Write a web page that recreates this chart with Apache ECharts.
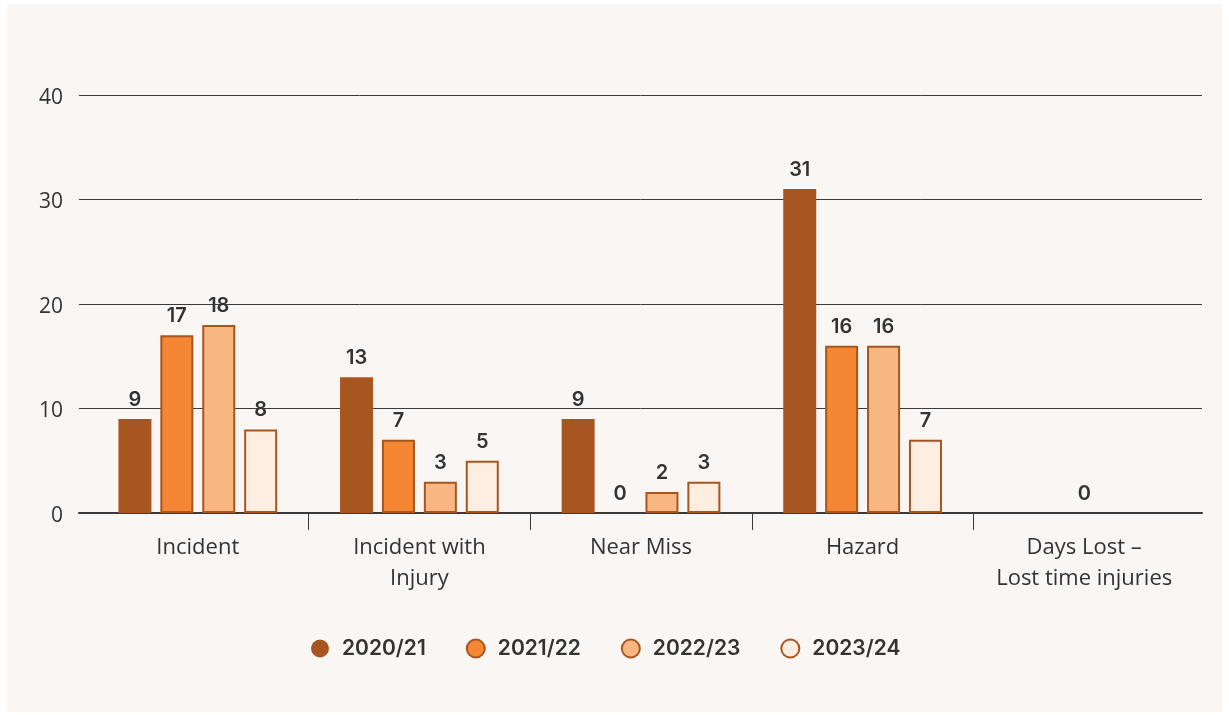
<!DOCTYPE html>
<html>
<head>
<meta charset="utf-8">
<title>Incidents by year</title>
<script src="https://cdn.jsdelivr.net/npm/echarts@6.0.0/dist/echarts.min.js"></script>
<style>
  html, body { margin: 0; padding: 0; background: #ffffff; }
  .panel { position: absolute; left: 7px; top: 4px; width: 1215px; height: 708px; background: #f9f6f3; }
  #chart { position: absolute; left: 0; top: 0; width: 1229px; height: 715px; }
</style>
</head>
<body>
<div class="panel"></div>
<div id="chart"></div>
<script>
// 分类和每年的数据
const categories = ['Incident', 'Incident with\nInjury', 'Near Miss', 'Hazard', 'Days Lost –\nLost time injuries']
const years = ['2020/21', '2021/22', '2022/23', '2023/24']
const v2020 = [9, 13, 9, 31, null]
const v2021 = [17, 7, 0, 16, 0]
const v2022 = [18, 3, 2, 16, null]
const v2023 = [8, 5, 3, 7, null]
const yTicks = [0, 10, 20, 30, 40]
const boundaryTicks = [1, 2, 3, 4]

const rust = '#a8561f'
const fills = ['#a8561f', '#f48634', '#f8b683', '#fdeee1']
const textColor = '#333333'

const chart = echarts.init(document.getElementById('chart'))

function makeSeries (name, values, idx) {
  const data = values.map((v, i) => {
    if (v === 0) {
      // 值为 0 时不画柱子，只留标签
      const item = { value: v, itemStyle: { color: 'transparent', borderWidth: 0 } }
      // Days Lost 只显示一个居中的 0
      if (i === 4) item.label = { offset: [21, 0] }
      return item
    }
    return v
  })
  return {
    name: name,
    type: 'bar',
    xAxisIndex: 1,
    yAxisIndex: 1,
    barWidth: 33,
    barGap: '27%',
    data: data,
    itemStyle: {
      color: fills[idx],
      borderColor: rust,
      borderWidth: idx === 0 ? 0 : 2
    },
    label: {
      show: true,
      position: 'top',
      distance: 9,
      color: textColor,
      fontFamily: 'Inter',
      fontWeight: 600,
      fontSize: 20
    }
  }
}

const option = {
  animation: false,
  backgroundColor: 'transparent',
  grid: [
    { left: 79, right: 27, top: 95, bottom: 202 },
    { left: 87, right: 34, top: 95, bottom: 202 }
  ],
  legend: {
    data: years,
    left: 306,
    top: 633,
    icon: 'circle',
    itemWidth: 34,
    itemHeight: 18,
    itemGap: 40,
    textStyle: {
      color: textColor,
      fontFamily: 'Inter',
      fontWeight: 600,
      fontSize: 21
    }
  },
  xAxis: [
    {
      // 外层网格，只画 0 处的粗轴线
      type: 'category',
      gridIndex: 0,
      data: categories,
      axisLine: { show: true, lineStyle: { color: '#3a3a3a', width: 2 } },
      axisTick: { show: false },
      axisLabel: { show: false }
    },
    {
      type: 'category',
      gridIndex: 1,
      data: categories,
      axisLine: { show: false },
      axisTick: { show: false },
      axisLabel: {
        margin: 19,
        color: textColor,
        fontFamily: 'Open Sans',
        fontSize: 22,
        lineHeight: 31,
        interval: 0
      }
    },
    {
      // 分类之间的刻度线
      type: 'value',
      gridIndex: 1,
      position: 'bottom',
      min: 0,
      max: 5,
      interval: 1,
      axisLine: { show: false },
      axisTick: { show: true, length: 17, customValues: boundaryTicks, lineStyle: { color: '#3a3a3a', width: 1 } },
      axisLabel: { show: false },
      splitLine: { show: false }
    }
  ],
  yAxis: [
    {
      type: 'value',
      gridIndex: 0,
      min: yTicks[0],
      max: yTicks[yTicks.length - 1],
      interval: 10,
      axisLine: { show: false },
      axisTick: { show: false },
      axisLabel: {
        margin: 16,
        formatter: '{v|{value}}',
        rich: {
          v: {
            color: textColor,
            fontFamily: 'Open Sans',
            fontSize: 21,
            padding: [6, 0, 0, 0]
          }
        }
      },
      splitLine: { lineStyle: { color: '#3a3a3a', width: 1 } }
    },
    {
      type: 'value',
      gridIndex: 1,
      min: yTicks[0],
      max: yTicks[yTicks.length - 1],
      show: false
    }
  ],
  series: [
    makeSeries(years[0], v2020, 0),
    makeSeries(years[1], v2021, 1),
    makeSeries(years[2], v2022, 2),
    makeSeries(years[3], v2023, 3)
  ]
}

chart.setOption(option)
</script>
</body>
</html>
